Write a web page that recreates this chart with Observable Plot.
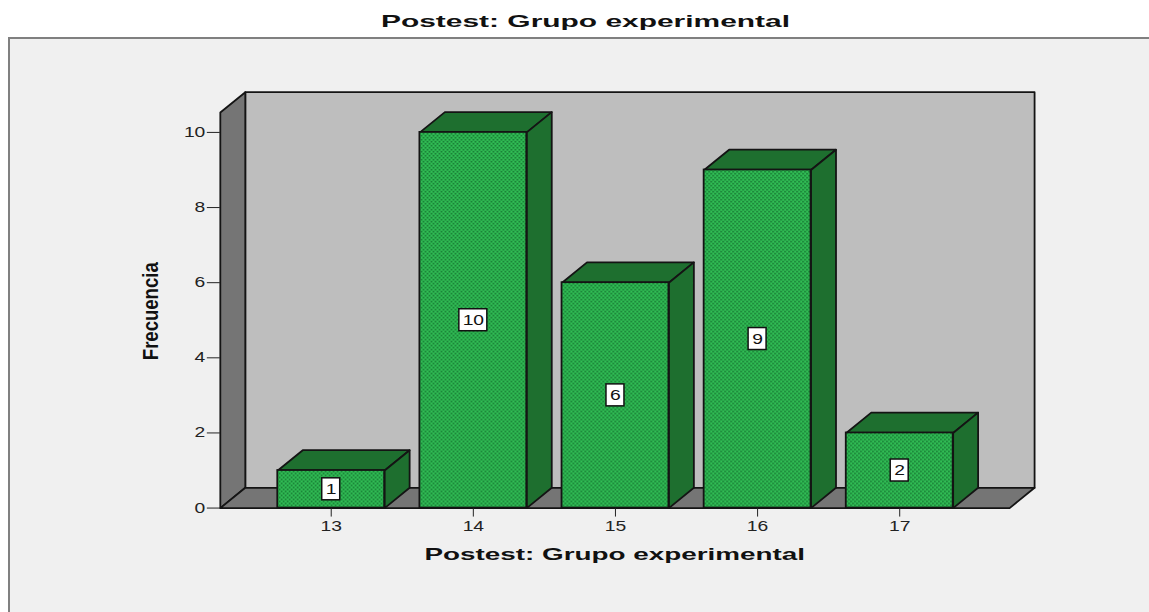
<!DOCTYPE html>
<html><head><meta charset="utf-8">
<script src="https://cdn.jsdelivr.net/npm/d3@7"></script>
<script src="https://cdn.jsdelivr.net/npm/@observablehq/plot@0.6"></script>
<style>
html,body{margin:0;padding:0;background:#fff;width:1149px;height:612px;overflow:hidden;font-family:"Liberation Sans",Arial,sans-serif}
#title{position:absolute;left:381px;top:11px;font-weight:bold;font-size:17px;line-height:22px;white-space:nowrap;color:#111;transform-origin:left center;letter-spacing:0}
#panel{position:absolute;left:8px;top:37px;width:1141px;height:575px;border-top:2px solid #808080;border-left:2px solid #808080;box-sizing:border-box;background:#f0f0f0}
#panel svg{display:block;position:absolute;left:-1px;top:0;overflow:visible;background:transparent}
</style></head><body>
<div id="title"><span id="titleText">Postest: Grupo experimental</span></div>
<div id="panel"></div>
<script>
const titleText = "Postest: Grupo experimental";
const categories = [13, 14, 15, 16, 17];
const frecuencias = [1, 10, 6, 9, 2];
const yTicks = [0, 2, 4, 6, 8, 10];
const xLabel = "Postest: Grupo experimental";
const yLabel = "Frecuencia";

const bars = categories.map((c, i) => ({c, v: frecuencias[i]}));
const halfBar = 0.376, depthX = 0.1757, depthY = 0.54;
const xLo = 12.2197, xHi = 17.7733, yHi = 10.53;

const poly = (id, pts) => pts.map(([x, y]) => ({id, x, y}));
const walls = poly("back", [[xLo+depthX,depthY],[xHi+depthX,depthY],[xHi+depthX,yHi+depthY],[xLo+depthX,yHi+depthY]]);
const sides = [
  ...poly("left", [[xLo,0],[xLo+depthX,depthY],[xLo+depthX,yHi+depthY],[xLo,yHi]]),
  ...poly("floor", [[xLo,0],[xLo+depthX,depthY],[xHi+depthX,depthY],[xHi,0]])
];
const barFaces = bars.flatMap(({c, v}) => [
  ...poly("top"+c, [[c-halfBar,v],[c+halfBar,v],[c+halfBar+depthX,v+depthY],[c-halfBar+depthX,v+depthY]]),
  ...poly("side"+c, [[c+halfBar,0],[c+halfBar+depthX,depthY],[c+halfBar+depthX,v+depthY],[c+halfBar,v]])
]);
const face = (data, fill, sw = 1.8) => Plot.line(data, {x:"x", y:"y", z:"id", curve:"linear-closed", fill, stroke:"#141414", strokeWidth:sw, strokeLinejoin:"round"});
const boxOpts = {x1:"c", x2:"c", y1:d=>d.v/2, y2:d=>d.v/2, fill:"#fff", stroke:"#111", strokeWidth:1.5, insetTop:-11, insetBottom:-11};

const plot = Plot.plot({
  width:1140, height:573,
  marginLeft:211, marginRight:139, marginTop:93, marginBottom:104,
  x:{type:"linear", domain:[xLo, xHi], label:null},
  y:{domain:[0,10], label:null},
  style:{background:"transparent", fontFamily:"Liberation Sans, Arial, sans-serif"},
  marks:[
    face(walls, "#bebebe"),
    face(sides, "#757575"),
    face(barFaces, "#1e6f2f"),
    Plot.rectY(bars, {x1:d=>d.c-halfBar, x2:d=>d.c+halfBar, y1:0, y2:"v", fill:"url(#dots)", stroke:"#141414", strokeWidth:1.8}),
    Plot.axisY({ticks:yTicks, tickSize:13, tickPadding:2, label:null, fontSize:14, stroke:"#222", fill:"#222", className:"tk", tickFormat:"d"}),
    Plot.axisX({ticks:categories, tickSize:9, tickPadding:4, label:null, fontSize:14, stroke:"#222", fill:"#222", className:"tk", tickFormat:"d"}),
    Plot.rect(bars.filter(d=>d.v<10), {...boxOpts, insetLeft:-9, insetRight:-9}),
    Plot.rect(bars.filter(d=>d.v>=10), {...boxOpts, insetLeft:-14, insetRight:-14}),
    Plot.text(bars, {x:"c", y:d=>d.v/2, text:d=>String(d.v), fontSize:14, fill:"#111", className:"tk"}),
    Plot.text([xLabel], {x:()=>14.995, y:()=>-1.23, text:d=>d, fontSize:17, fontWeight:"bold", fill:"#111", className:"xl"}),
    Plot.text([yLabel], {x:()=>11.73, y:()=>5.24, text:d=>d, rotate:-90, fontSize:23, fontWeight:"bold", fill:"#111", className:"yl"})
  ]
});

const defs = d3.create("svg:defs");
const pat = defs.append("pattern").attr("id","dots").attr("width",4).attr("height",4).attr("patternUnits","userSpaceOnUse");
pat.append("rect").attr("width",4).attr("height",4).attr("fill","#31bd55");
pat.append("rect").attr("x",0).attr("y",0).attr("width",1.6).attr("height",1.6).attr("fill","#157530");
pat.append("rect").attr("x",2).attr("y",2).attr("width",1.6).attr("height",1.6).attr("fill","#157530");
plot.insertBefore(defs.node(), plot.firstChild);
document.getElementById("panel").appendChild(plot);

// The reference is a horizontally stretched screenshot: widen glyphs to match.
const stretch = (sel, fn) => plot.querySelectorAll(sel).forEach(t => {
  const w = t.getComputedTextLength();
  t.setAttribute("textLength", fn(w));
  t.setAttribute("lengthAdjust", "spacingAndGlyphs");
});
stretch(".tk text", w => w * 1.38);
stretch(".xl text", () => 381);
stretch(".yl text", () => 98);
const ts = document.getElementById("titleText");
ts.style.display = "inline-block";
document.getElementById("title").style.transform = `scaleX(${409 / ts.getBoundingClientRect().width})`;
ts.textContent = titleText;
</script>
</body></html>
